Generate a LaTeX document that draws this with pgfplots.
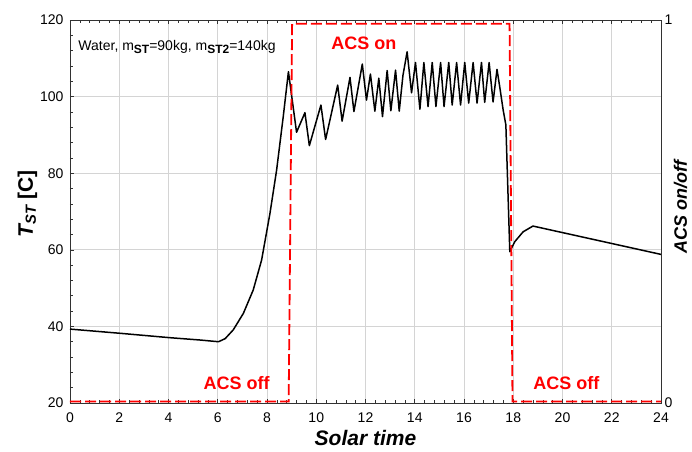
\documentclass[border=0pt]{standalone}
\usepackage{pgfplots}
\pgfplotsset{compat=1.18}
\usepackage{fontspec}
\setmainfont{Liberation Sans}
\definecolor{gridgray}{RGB}{212,212,212}
\definecolor{axgray}{RGB}{50,50,50}
\definecolor{acsred}{RGB}{255,0,0}

\pgfplotstableread{
t T
0 39.3
2.04 38.2
4.06 37.05
5.28 36.45
6.03 36.0
6.30 36.8
6.63 39.1
7.04 43.4
7.44 49.5
7.78 57.3
8.12 69.5
8.39 80.8
8.66 94.8
8.87 106.5
9.20 90.7
9.54 95.8
9.72 87.2
10.19 97.8
10.38 88.8
10.87 103.0
11.05 93.6
11.37 105.0
11.53 96.1
11.87 108.5
12.04 99.1
12.20 105.9
12.38 96.2
12.54 104.8
12.69 94.8
12.88 106.8
13.03 96.3
13.22 106.9
13.37 96.2
13.52 105.5
13.69 111.7
13.87 101.0
14.03 108.9
14.21 96.7
14.37 108.9
14.54 97.4
14.71 108.9
14.86 97.4
15.05 108.9
15.19 97.4
15.38 108.9
15.52 97.8
15.70 108.9
15.86 97.8
16.03 108.9
16.19 98.3
16.37 108.9
16.53 98.3
16.71 108.9
16.84 98.5
17.02 108.9
17.18 98.6
17.34 107.1
17.45 102.6
17.59 96.5
17.70 92.6
17.86 59.5
18.06 62.1
18.40 64.7
18.80 66.2
24.00 58.8
}\tstdata

\pgfplotstableread{
t acs
0 0.004
8.88 0.004
9.02 0.99
17.85 0.99
17.97 0.004
24 0.004
}\acsdata

\begin{document}
\begin{tikzpicture}
\path[use as bounding box] (-70pt,-48pt) rectangle (622pt,403pt);
\begin{axis}[
  at={(0,0)}, anchor=south west,
  scale only axis, width=591pt, height=383pt,
  xmin=0, xmax=24, ymin=20, ymax=120,
  xtick={0,2,...,24}, ytick={20,40,...,120},
  minor x tick num=4, minor y tick num=4,
  grid=major, major grid style={gridgray, line width=0.8pt},
  axis line style={axgray, line width=0.8pt},
  every tick/.style={axgray, line width=0.6pt},
  tick align=inside,
  xtick pos=both, ytick pos=left,
  ticklabel style={font=\fontsize{14}{16}\selectfont},
  xticklabel style={yshift=-6pt},
  yticklabel style={xshift=-3pt},
  /pgf/number format/assume math mode=true,
  xlabel={\fontsize{21}{24}\selectfont\bfseries\itshape Solar time},
  xlabel style={at={(axis description cs:0.5,-0.0914)}, anchor=center},
  ylabel={\fontsize{21}{24}\selectfont\bfseries{\itshape T\textsubscript{ST}} [C]},
  ylabel style={at={(axis description cs:-0.072,0.52)}, anchor=center},
  clip=false,
]
\addplot[black, line width=1.5pt, line join=round] table[x=t,y=T] {\tstdata};
\node[anchor=west, font=\fontsize{14}{16}\selectfont] at (axis cs:0.2,112.9) {Water, m\raisebox{-3pt}{\fontsize{12}{14}\selectfont\bfseries ST}=90kg, m\raisebox{-3pt}{\fontsize{12}{14}\selectfont\bfseries ST2}=140kg};
\node[acsred, font=\fontsize{18}{21}\selectfont\bfseries] at (axis cs:11.93,114.0) {ACS on};
\node[acsred, font=\fontsize{18}{21}\selectfont\bfseries] at (axis cs:6.77,25.1) {ACS off};
\node[acsred, font=\fontsize{18}{21}\selectfont\bfseries] at (axis cs:20.16,25.1) {ACS off};
\end{axis}
\begin{axis}[
  at={(0,0)}, anchor=south west,
  scale only axis, width=591pt, height=383pt,
  xmin=0, xmax=24, ymin=0, ymax=1,
  axis x line=none, axis y line*=right,
  ytick={0,1}, minor y tick num=0,
  axis line style={axgray, line width=0.8pt},
  every tick/.style={axgray, line width=0.6pt},
  tick align=inside,
  ticklabel style={font=\fontsize{14}{16}\selectfont},
  /pgf/number format/assume math mode=true,
  ylabel={\fontsize{18}{21}\selectfont\bfseries\itshape ACS on/off},
  ylabel style={at={(axis description cs:1.033,0.512)}, anchor=center, inner sep=0pt},
  clip=false,
]
\addplot[acsred, line width=1.8pt, dash pattern=on 11pt off 4pt] table[x=t,y=acs] {\acsdata};
\end{axis}
\end{tikzpicture}
\end{document}
